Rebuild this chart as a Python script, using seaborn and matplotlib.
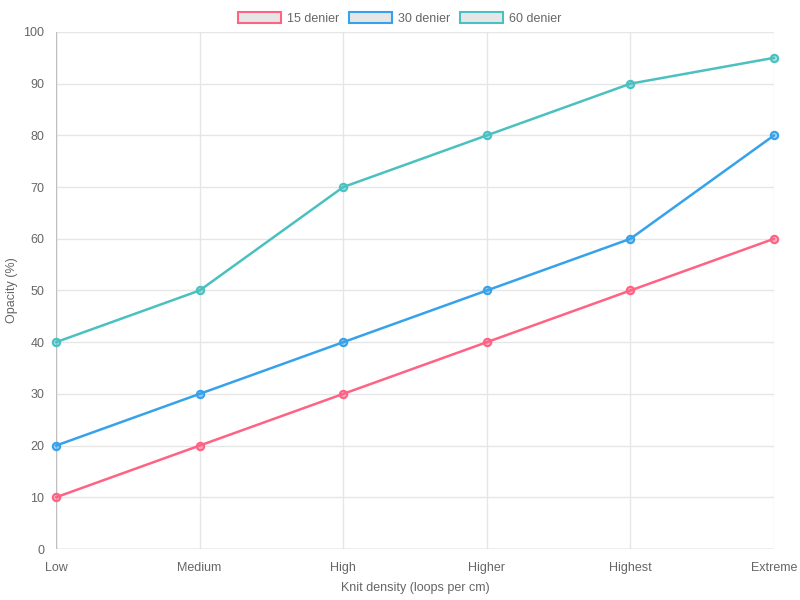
import numpy as np
import pandas as pd
import matplotlib
matplotlib.use("Agg")
import matplotlib.pyplot as plt
import seaborn as sns
from matplotlib.patches import Patch

# data
density = ["Low", "Medium", "High", "Higher", "Highest", "Extreme"]
den15 = [10, 20, 30, 40, 50, 60]
den30 = [20, 30, 40, 50, 60, 80]
den60 = [40, 50, 70, 80, 90, 95]
series_names = ["15 denier", "30 denier", "60 denier"]
colors = ["#ff6384", "#36a2eb", "#4bc0c0"]

df = pd.DataFrame({
    "density": density * 3,
    "x": list(range(len(density))) * 3,
    "opacity": den15 + den30 + den60,
    "series": np.repeat(series_names, len(density)),
})

sns.set_style("white")
plt.rcParams["font.family"] = ["Liberation Sans", "DejaVu Sans"]
txt = "#666666"

fig = plt.figure(figsize=(8, 6), dpi=100)
ax = fig.add_axes([0.07, 0.085, 0.8975, 0.8617])

palette = dict(zip(series_names, colors))
sns.lineplot(data=df, x="x", y="opacity", hue="series", palette=palette,
             linewidth=1.8, legend=False, ax=ax)
for ln in ax.lines:
    ln.set_clip_on(False)
for name, c in palette.items():
    sub = df[df.series == name]
    ax.scatter(sub["x"], sub["opacity"], s=28, facecolor=matplotlib.colors.to_rgba(c, 0.5),
               edgecolor=c, linewidth=1.5, zorder=3, clip_on=False)

ax.set_xlim(0, 5)
ax.set_ylim(0, 100)
ax.set_xticks(range(len(density)))
ax.set_xticklabels(density)
ax.set_yticks(range(0, 101, 10))
ax.grid(True, color="#e6e6e6", linewidth=1)
for s in ax.spines.values():
    s.set_visible(False)
ax.axhline(0, color="#c0c0c0", linewidth=1, zorder=1)
ax.axvline(0, color="#c0c0c0", linewidth=1, zorder=1)
ax.tick_params(axis="both", colors=txt, labelsize=9, length=4.5, width=1)
ax.tick_params(axis="both", color="#e6e6e6")
ax.tick_params(axis="x", pad=11.3)
ax.tick_params(axis="y", pad=4)
for lbl in ax.get_xticklabels():
    lbl.set_va("baseline")
ax.set_xlabel("")
ax.set_ylabel("")
fig.text(415 / 800, 1 - 588 / 600, "Knit density (loops per cm)", color=txt, fontsize=9,
         ha="center", va="center")
fig.text(12 / 800, 1 - 290 / 600, "Opacity (%)", color=txt, fontsize=9,
         rotation=90, ha="center", va="center")

handles = [Patch(facecolor="#e6e6e6", edgecolor=c, linewidth=1.5) for c in colors]
fig.legend(handles, series_names, loc="upper center", ncol=3, frameon=False,
           bbox_to_anchor=(0.5, 0.998), fontsize=9, handlelength=3.4, handleheight=0.95,
           columnspacing=0.8, handletextpad=0.5, labelcolor=txt)

fig.savefig("out.png", dpi=100)
